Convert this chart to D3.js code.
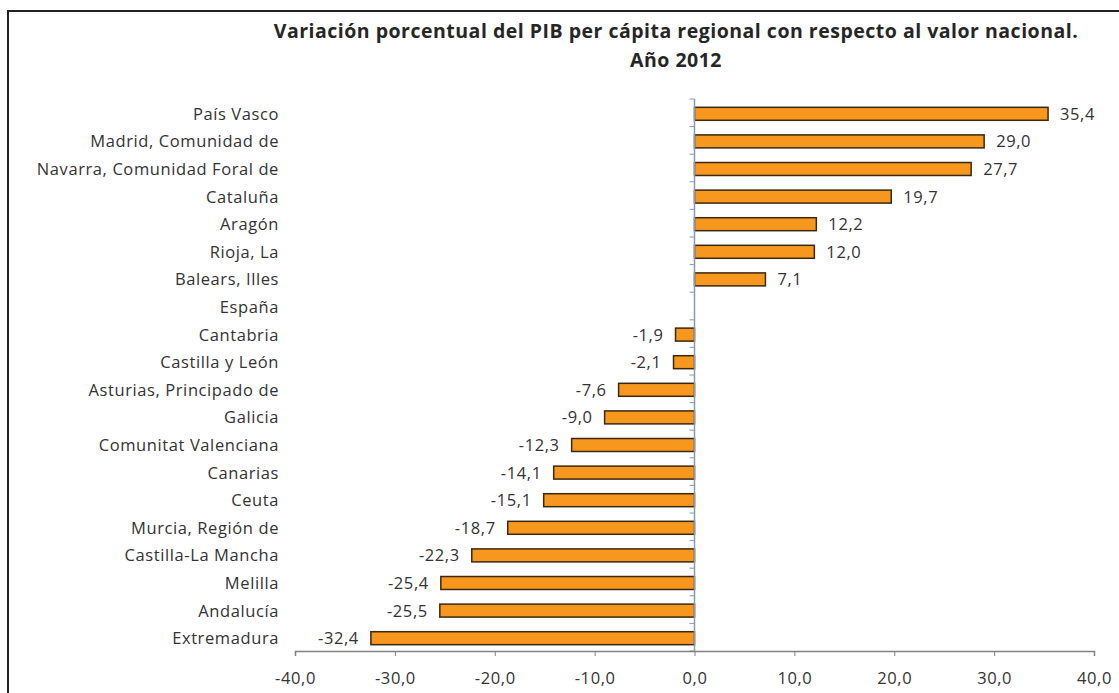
<!DOCTYPE html>
<html>
<head>
<meta charset="utf-8">
<script src="https://cdn.jsdelivr.net/npm/d3@7"></script>
<style>
  body { margin: 0; background: #fff; }
  svg { display: block; font-family: "Open Sans", "Noto Sans", sans-serif; }
</style>
</head>
<body>
<div id="chart"></div>
<script>
var categories = ["País Vasco", "Madrid, Comunidad de", "Navarra, Comunidad Foral de", "Cataluña",
                  "Aragón", "Rioja, La", "Balears, Illes", "España", "Cantabria", "Castilla y León",
                  "Asturias, Principado de", "Galicia", "Comunitat Valenciana", "Canarias", "Ceuta",
                  "Murcia, Región de", "Castilla-La Mancha", "Melilla", "Andalucía", "Extremadura"];
var values = [35.4, 29.0, 27.7, 19.7, 12.2, 12.0, 7.1, null, -1.9, -2.1,
              -7.6, -9.0, -12.3, -14.1, -15.1, -18.7, -22.3, -25.4, -25.5, -32.4];
var xTicks = [-40, -30, -20, -10, 0, 10, 20, 30, 40];
var titleLines = ["Variación porcentual del PIB per cápita regional con respecto al valor nacional.",
                  "Año 2012"];

var w = 1119, h = 693;

var svg = d3.select("#chart").append("svg")
            .attr("width", w)
            .attr("height", h);

// frame of the original picture (runs off the right and bottom edges)
svg.append("rect")
   .attr("x", 8).attr("y", 11)
   .attr("width", 1200).attr("height", 800)
   .attr("fill", "none")
   .attr("stroke", "#222")
   .attr("stroke-width", 2);

var x = d3.scaleLinear().domain([-40, 40]).range([295, 1094]);
var y = d3.scaleBand().domain(categories).range([99, 651]).paddingInner(0.53).paddingOuter(0.265);

// spanish number format: comma decimal, plain hyphen minus
var locale = d3.formatLocale({ decimal: ",", thousands: ".", grouping: [3], currency: ["", " €"], minus: "-" });
var fmt = locale.format(".1f");

var labelFont = 16.5, labelSpacing = 0.6;

// title
svg.selectAll(".title")
   .data(titleLines)
   .enter()
   .append("text")
   .attr("x", 676)
   .attr("y", function(d, i) { return 38 + i * 29; })
   .attr("text-anchor", "middle")
   .attr("font-size", 19.5)
   .attr("letter-spacing", 0.5)
   .attr("font-weight", "bold")
   .attr("fill", "#262626")
   .text(function(d) { return d; });

// bars
var data = categories.map(function(c, i) { return { cat: c, v: values[i] }; });

svg.selectAll(".bar")
   .data(data.filter(function(d) { return d.v !== null; }))
   .enter()
   .append("rect")
   .attr("x", function(d) { return x(Math.min(0, d.v)); })
   .attr("y", function(d) { return y(d.cat) + 1; })
   .attr("width", function(d) { return Math.abs(x(d.v) - x(0)); })
   .attr("height", y.bandwidth())
   .attr("fill", "#F7971E")
   .attr("stroke", "#3a2810")
   .attr("stroke-width", 1.5);

// value labels
svg.selectAll(".val")
   .data(data.filter(function(d) { return d.v !== null; }))
   .enter()
   .append("text")
   .attr("x", function(d) { return d.v >= 0 ? x(d.v) + 12 : x(d.v) - 12; })
   .attr("y", function(d) { return y(d.cat) + 1 + y.bandwidth() / 2; })
   .attr("dy", "0.36em")
   .attr("text-anchor", function(d) { return d.v >= 0 ? "start" : "end"; })
   .attr("font-size", labelFont)
   .attr("letter-spacing", labelSpacing)
   .attr("fill", "#333")
   .text(function(d) { return fmt(d.v); });

// category labels
svg.selectAll(".cat")
   .data(categories)
   .enter()
   .append("text")
   .attr("x", 279)
   .attr("y", function(d) { return y(d) + 1 + y.bandwidth() / 2; })
   .attr("dy", "0.36em")
   .attr("text-anchor", "end")
   .attr("font-size", labelFont)
   .attr("letter-spacing", labelSpacing)
   .attr("fill", "#333")
   .text(function(d) { return d; });

// y axis line with ticks at the category boundaries
var step = y.step();
var bounds = [99].concat(categories.map(function(c) { return y(c) - y.paddingInner() * step / 2 + step; }));
svg.append("line")
   .attr("x1", x(0)).attr("x2", x(0))
   .attr("y1", 99).attr("y2", 651)
   .attr("stroke", "#8a9ab0")
   .attr("stroke-width", 1.5);
svg.selectAll(".ytick")
   .data(bounds)
   .enter()
   .append("line")
   .attr("x1", x(0) - 5).attr("x2", x(0))
   .attr("y1", function(d) { return d; })
   .attr("y2", function(d) { return d; })
   .attr("stroke", "#8a9ab0");

// x axis
var xAxis = d3.axisBottom(x)
              .tickValues(xTicks)
              .tickSize(5)
              .tickPadding(16)
              .tickFormat(fmt);
var gx = svg.append("g")
            .attr("transform", "translate(0,651)")
            .call(xAxis);
gx.select(".domain").attr("stroke", "#808080").attr("stroke-width", 1.5);
gx.selectAll(".tick line").attr("stroke", "#808080");
gx.selectAll(".tick text")
  .attr("font-size", labelFont)
  .attr("letter-spacing", labelSpacing)
  .attr("font-family", "\"Open Sans\", \"Noto Sans\", sans-serif")
  .attr("fill", "#333");
</script>
</body>
</html>
